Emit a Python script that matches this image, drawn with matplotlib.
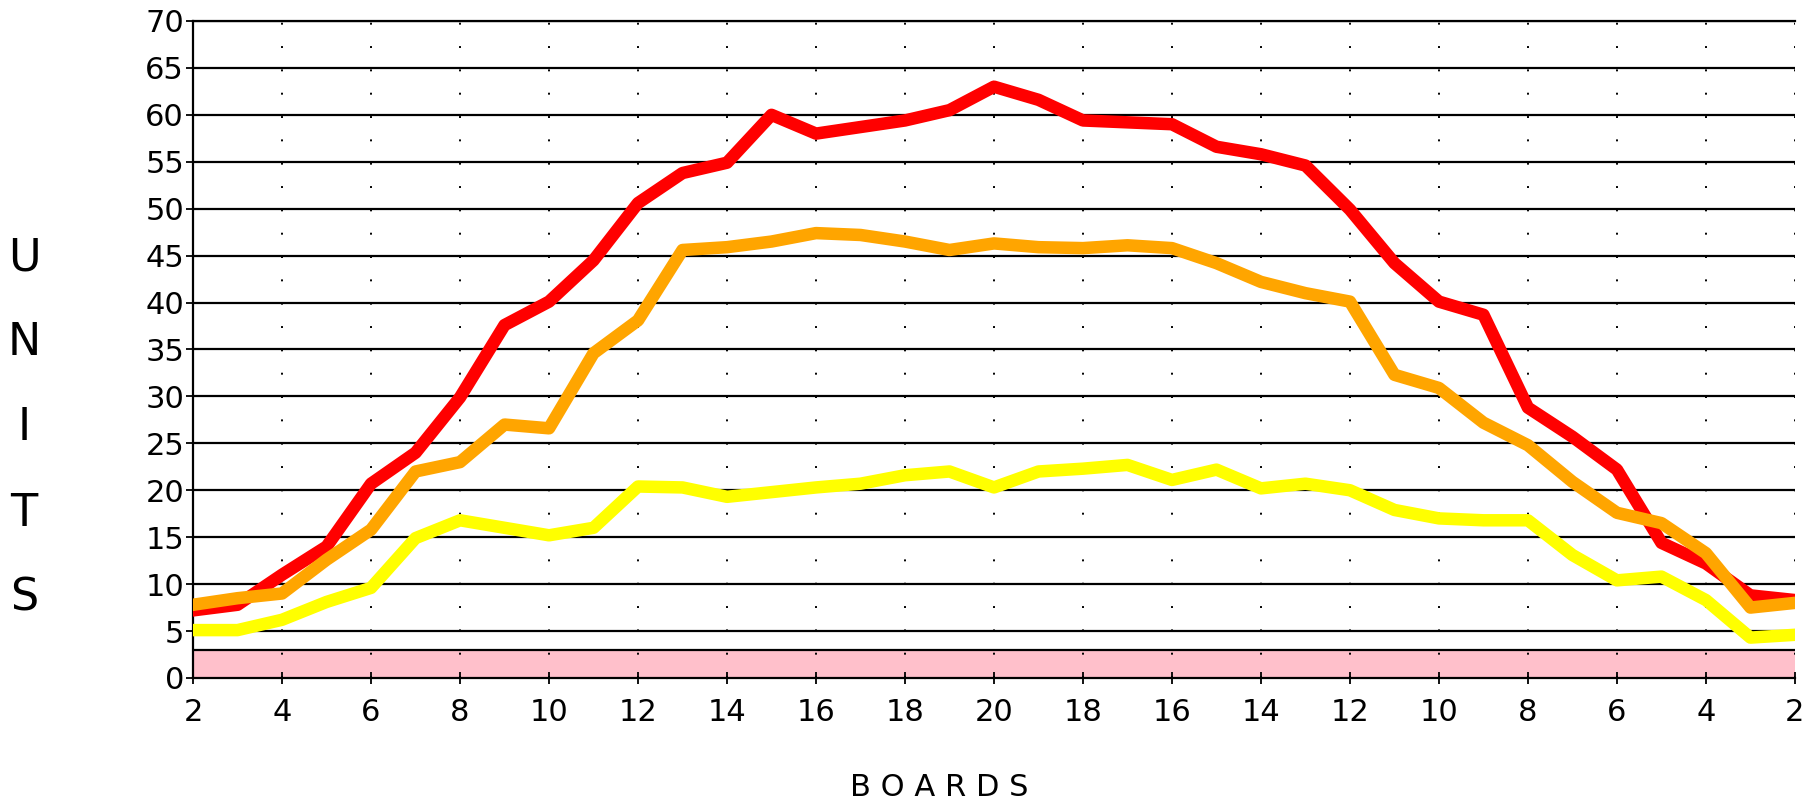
import matplotlib
matplotlib.use("Agg")
import matplotlib.pyplot as plt

# board numbers go up 2..20 and back down 2
boards = list(range(2, 21)) + list(range(19, 1, -1))

red = [7.2, 7.8, 11.0, 14.0, 20.7, 24.0, 29.9, 37.6, 40.1, 44.5,
       50.6, 53.8, 54.9, 60.0, 58.0, 58.7, 59.4, 60.5, 63.0, 61.6,
       59.4, 59.2, 59.0, 56.6, 55.8, 54.6, 49.9, 44.2, 40.1, 38.7,
       28.8, 25.7, 22.2, 14.4, 12.2, 8.8, 8.3]
orange = [7.8, 8.5, 9.0, 12.6, 15.8, 22.0, 23.0, 27.0, 26.6, 34.6,
          38.1, 45.6, 45.9, 46.5, 47.4, 47.2, 46.5, 45.6, 46.3, 45.9,
          45.8, 46.1, 45.8, 44.2, 42.2, 41.0, 40.1, 32.3, 30.9, 27.2,
          24.8, 20.9, 17.6, 16.5, 13.3, 7.5, 8.0]
yellow = [5.1, 5.1, 6.2, 8.1, 9.6, 14.9, 16.8, 16.0, 15.2, 16.0,
          20.4, 20.3, 19.3, 19.8, 20.3, 20.7, 21.6, 22.0, 20.3, 22.0,
          22.3, 22.7, 21.1, 22.2, 20.2, 20.7, 20.0, 17.9, 17.0, 16.8,
          16.8, 13.1, 10.4, 10.8, 8.3, 4.3, 4.6]

BAND_TOP = 3
yticks = list(range(0, 75, 5))

FONT = ['Liberation Sans Narrow', 'DejaVu Sans']

fig = plt.figure(figsize=(18.18, 8.01), dpi=100)
ax = fig.add_axes([0.1062, 0.1536, 0.8811, 0.8202])

x = list(range(len(boards)))

# pink band at the bottom
ax.axhspan(0, BAND_TOP, color='pink', zorder=0)
ax.axhline(BAND_TOP, color='black', lw=1.6, zorder=1)

for y in yticks[1:]:
    ax.axhline(y, color='black', lw=1.6, zorder=1)
for i in x[::2]:
    ax.axvline(i, color='black', lw=1.4, linestyle=(0, (1, 11)), zorder=1)

ax.plot(x, red, color='#ff0000', lw=9, zorder=3)
ax.plot(x, orange, color='#ffa500', lw=9, zorder=4)
ax.plot(x, yellow, color='#ffff00', lw=9, zorder=5)

ax.set_xlim(0, len(boards) - 1)
ax.set_ylim(0, 70)
ax.set_yticks(yticks)
ax.set_xticks(x[::2])
ax.set_xticklabels([str(b) for b in boards[::2]])

for lab in ax.get_xticklabels() + ax.get_yticklabels():
    lab.set_family(FONT)
    lab.set_fontsize(22)

ax.tick_params(axis='y', direction='out', length=5, width=1.3, pad=1.5)
ax.tick_params(axis='x', direction='inout', length=9, width=1.3, pad=10)

ax.spines['right'].set_visible(False)
for s in ['left', 'bottom', 'top']:
    ax.spines[s].set_linewidth(1.6)

# stacked y label letters
for k, ch in enumerate("UNITS"):
    fig.text(24 / 1818, 1 - (258 + 85 * k) / 801, ch, family=FONT,
             fontsize=32, ha='center', va='center')

fig.text(939 / 1818, 1 - 787 / 801, "B O A R D S", family='DejaVu Sans',
         fontsize=22, ha='center', va='center')

fig.savefig("out.png", dpi=100, facecolor='white')
